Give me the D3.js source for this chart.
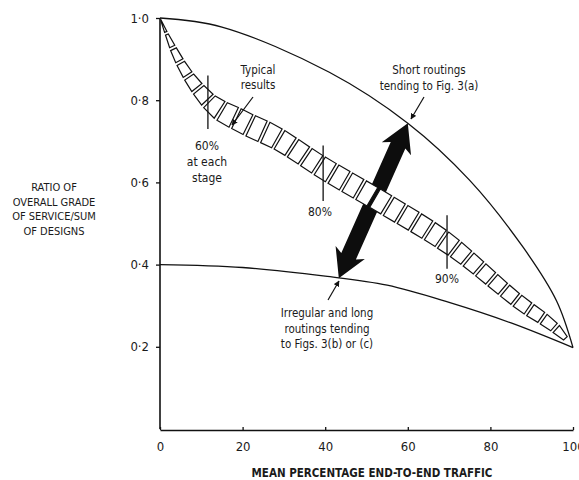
<!DOCTYPE html>
<html>
<head>
<meta charset="utf-8">
<script src="https://cdn.jsdelivr.net/npm/d3@7"></script>
<style>
  body { margin: 0; background: #fff; }
  svg text { font-family: "DejaVu Sans Condensed", "DejaVu Sans", sans-serif; font-stretch: condensed; fill: #1a1a1a; }
</style>
</head>
<body>
<div id="chart"></div>
<script>
// ticks
const xTicks = [0, 20, 40, 60, 80, 100];
const yTicks = [0.2, 0.4, 0.6, 0.8, 1.0];

// upper curve: short routings
const upperX = [0, 15, 41, 60, 75, 88, 96, 100];
const upperY = [1.0, 0.978, 0.868, 0.744, 0.605, 0.441, 0.312, 0.198];

// lower curve: irregular and long routings
const lowerX = [0, 20, 40, 55, 70, 85, 100];
const lowerY = [0.4, 0.393, 0.372, 0.35, 0.308, 0.258, 0.198];

// typical results band (centre and half width)
const bandX = [0, 3.6, 11.6, 20.1, 27.8, 39.5, 54.5, 69.5, 87.2, 96.9, 100];
const bandMid = [1.0, 0.917, 0.8, 0.747, 0.71, 0.635, 0.547, 0.453, 0.307, 0.234, 0.2];
const bandHalf = [0.0, 0.02, 0.028, 0.03, 0.03, 0.03, 0.03, 0.029, 0.021, 0.015, 0.0];

// percentage stage markers
const stageX = [11.6, 39.5, 69.5];
const stageLabels = ["60%", "80%", "90%"];

// double arrow ends
const arrowLow = [43.3, 0.367];
const arrowHigh = [60, 0.744];

const width = 579, height = 480;

const x = d3.scaleLinear().domain([0, 100]).range([160, 573]);
const y = d3.scaleLinear().domain([0, 1]).range([429, 18]);

const svg = d3.select("#chart").append("svg")
    .attr("width", width)
    .attr("height", height);

svg.append("defs").append("marker")
    .attr("id", "tip")
    .attr("viewBox", "0 0 10 10")
    .attr("refX", 9).attr("refY", 5)
    .attr("markerWidth", 5).attr("markerHeight", 5)
    .attr("orient", "auto")
  .append("path")
    .attr("d", "M0,0L10,5L0,10z")
    .attr("fill", "#111");

const line = d3.line()
    .x(d => x(d[0]))
    .y(d => y(d[1]))
    .curve(d3.curveMonotoneX);

const smooth = d3.line()
    .x(d => x(d[0]))
    .y(d => y(d[1]))
    .curve(d3.curveCatmullRom.alpha(0.5));

// axes
const yAxis = svg.append("g")
    .attr("transform", "translate(" + x(0) + ",0)")
    .call(d3.axisLeft(y).tickValues(yTicks).tickSize(4).tickSizeOuter(0).tickPadding(7)
      .tickFormat(d => d3.format(".1f")(d).replace(".", "·")));

const xAxis = svg.append("g")
    .attr("transform", "translate(0," + (y(0) + 1) + ")")
    .call(d3.axisBottom(x).tickValues(xTicks).tickSize(-3).tickSizeOuter(0).tickPadding(12));

[yAxis, xAxis].forEach(g => {
  g.select(".domain").attr("stroke", "#111").attr("stroke-width", 1.6);
  g.selectAll(".tick line").attr("stroke", "#111").attr("stroke-width", 1.3);
  g.selectAll(".tick text").attr("font-size", 13).attr("fill", "#1a1a1a")
    .style("font-family", "'DejaVu Sans Condensed', 'DejaVu Sans', sans-serif")
    .style("font-stretch", "condensed");
});
// y domain runs to the top value
yAxis.select(".domain").attr("d", "M0," + y(0) + "V" + y(1));

// curves
svg.append("path")
    .datum(upperX.map((d, i) => [d, upperY[i]]))
    .attr("d", smooth)
    .attr("fill", "none").attr("stroke", "#111").attr("stroke-width", 1.3);

svg.append("path")
    .datum(lowerX.map((d, i) => [d, lowerY[i]]))
    .attr("d", smooth)
    .attr("fill", "none").attr("stroke", "#111").attr("stroke-width", 1.3);

// double arrow
(function () {
  const p0 = [x(arrowLow[0]), y(arrowLow[1])];
  const p1 = [x(arrowHigh[0]), y(arrowHigh[1])];
  const dx = p1[0] - p0[0], dy = p1[1] - p0[1];
  const len = Math.hypot(dx, dy);
  const u = [dx / len, dy / len], n = [-u[1], u[0]];
  const hl = 28, hw = 16, sw = 8;
  const pt = (p, a, b) => [p[0] + u[0] * a + n[0] * b, p[1] + u[1] * a + n[1] * b];
  const pts = [
    p1, pt(p1, -hl, hw), pt(p1, -hl + 4, sw), pt(p0, hl - 4, sw), pt(p0, hl, hw),
    p0, pt(p0, hl, -hw), pt(p0, hl - 4, -sw), pt(p1, -hl + 4, -sw), pt(p1, -hl, -hw)
  ];
  svg.append("path")
      .attr("d", "M" + pts.map(p => p.join(",")).join("L") + "Z")
      .attr("fill", "#0d0d0d");
})();

// band of typical results
const mid = svg.append("path")
    .datum(bandX.map((d, i) => [d, bandMid[i]]))
    .attr("d", line)
    .attr("fill", "none").attr("stroke", "none");

const halfAt = d3.scaleLinear().domain(bandX).range(bandHalf);
const node = mid.node();
const total = node.getTotalLength();
const cell = 13, gap = 3;
const frame = s => {
  const a = node.getPointAtLength(Math.max(0, s - 0.5));
  const b = node.getPointAtLength(Math.min(total, s + 0.5));
  const p = node.getPointAtLength(s);
  const l = Math.hypot(b.x - a.x, b.y - a.y) || 1;
  const t = [(b.x - a.x) / l, (b.y - a.y) / l];
  const h = (y(0) - y(halfAt(x.invert(p.x)))) * Math.abs(t[0]);
  return {p: [p.x, p.y], n: [-t[1], t[0]], h: h};
};
const cells = [];
for (let s = 2; s + cell <= total; s += cell + gap) {
  const f0 = frame(s), f1 = frame(s + cell);
  cells.push([
    [f0.p[0] + f0.n[0] * f0.h, f0.p[1] + f0.n[1] * f0.h],
    [f1.p[0] + f1.n[0] * f1.h, f1.p[1] + f1.n[1] * f1.h],
    [f1.p[0] - f1.n[0] * f1.h, f1.p[1] - f1.n[1] * f1.h],
    [f0.p[0] - f0.n[0] * f0.h, f0.p[1] - f0.n[1] * f0.h]
  ]);
}
svg.selectAll(".cell")
  .data(cells)
  .enter().append("path")
    .attr("class", "cell")
    .attr("d", d => "M" + d.map(p => p.join(",")).join("L") + "Z")
    .attr("fill", "#fff")
    .attr("stroke", "#111")
    .attr("stroke-width", 1.2);

// stage markers
const stageTop = [0.86, 0.69, 0.52];
const stageBot = [0.73, 0.555, 0.39];
svg.selectAll(".stage")
  .data(stageX)
  .enter().append("line")
    .attr("x1", d => x(d)).attr("x2", d => x(d))
    .attr("y1", (d, i) => y(stageTop[i]))
    .attr("y2", (d, i) => y(stageBot[i]))
    .attr("stroke", "#111").attr("stroke-width", 1.3);

const stageText = [[207, 150], [320, 216], [447, 283]];
svg.selectAll(".stagelabel")
  .data(stageLabels)
  .enter().append("text")
    .attr("x", (d, i) => stageText[i][0])
    .attr("y", (d, i) => stageText[i][1])
    .attr("text-anchor", "middle")
    .attr("font-size", 12)
    .text(d => d);

function block(lines, cx, cy, size, lh) {
  const t = svg.append("text")
      .attr("text-anchor", "middle")
      .attr("font-size", size);
  lines.forEach((s, i) => {
    t.append("tspan").attr("x", cx).attr("y", cy + i * lh).text(s);
  });
  return t;
}

block(["at each", "stage"], 207, 166, 12, 15.5);
block(["Typical", "results"], 258, 74, 11.5, 15);
block(["Short routings", "tending to Fig. 3(a)"], 429, 74, 11.5, 16);
block(["Irregular and long", "routings tending", "to Figs. 3(b) or (c)"], 327, 317, 11.5, 15.5);

// leaders
const leaders = [
  [[253, 97], [232, 125]],
  [[424, 97], [411, 119]],
  [[328, 300], [339, 281]]
];
svg.selectAll(".leader")
  .data(leaders)
  .enter().append("line")
    .attr("x1", d => d[0][0]).attr("y1", d => d[0][1])
    .attr("x2", d => d[1][0]).attr("y2", d => d[1][1])
    .attr("stroke", "#111").attr("stroke-width", 1.2)
    .attr("marker-end", "url(#tip)");

// axis titles
block(["RATIO OF", "OVERALL GRADE", "OF SERVICE/SUM", "OF DESIGNS"], 54, 191, 11, 14.5);
svg.append("text")
    .attr("x", 372).attr("y", 477)
    .attr("text-anchor", "middle")
    .attr("font-size", 11.5)
    .attr("font-weight", "bold")
    .text("MEAN PERCENTAGE END-TO-END TRAFFIC");
</script>
</body>
</html>
